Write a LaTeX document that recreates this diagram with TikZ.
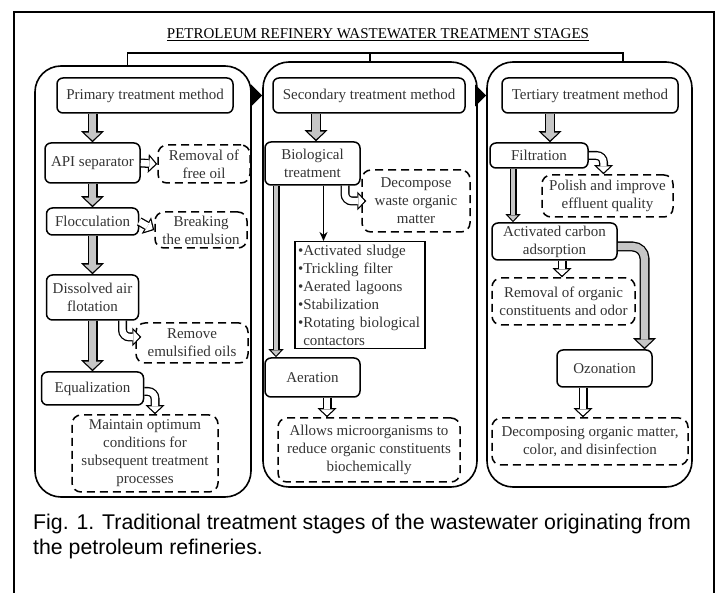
\documentclass[tikz,border=0pt]{standalone}
\usepackage{fontspec}
\setmainfont{Liberation Serif}
\newfontfamily\capfont{Liberation Sans}
\usetikzlibrary{shapes}
\usetikzlibrary{positioning}
\usetikzlibrary{arrows.meta}
\usetikzlibrary{calc}

\tikzset{
  proc/.style={draw, line width=1.5pt, rounded corners=6pt, align=center, inner sep=2pt,
    text=black!80, font=\fontsize{15}{18}\selectfont},
  note/.style={proc, dash pattern=on 8pt off 5pt, rounded corners=9pt},
  listbox/.style={draw, line width=1.5pt, align=left, inner xsep=3pt, inner ysep=3pt,
    text width=124pt, text=black!80, font=\fontsize{15}{18}\selectfont},
  panel/.style={draw, line width=1.6pt, rounded corners=26pt},
  grayarr/.style={draw=black, line width=10pt, rounded corners=8pt,
    -{Triangle[length=11pt,width=23pt,line width=0pt]},
    postaction={draw=gray!45, line width=7.4pt, shorten >=1.9pt,
      -{Triangle[length=7.6pt,width=16.5pt,line width=0pt]}}},
  hollowarr/.style={draw=black, line width=9pt, rounded corners=7pt,
    -{Triangle[length=9pt,width=19pt,line width=0pt]},
    postaction={draw=white, line width=6.4pt, shorten >=1.8pt,
      -{Triangle[length=6pt,width=13pt,line width=0pt]}}},
  thinarr/.style={draw=black, line width=7pt,
    -{Triangle[length=8pt,width=15pt,line width=0pt]},
    postaction={draw=gray!45, line width=4.6pt, shorten >=1.6pt,
      -{Triangle[length=5.3pt,width=9.6pt,line width=0pt]}}},
  blackarr/.style={draw=black, line width=7pt, -{Triangle[length=11pt,width=22pt,line width=0pt]}},
}

\begin{document}
\begin{tikzpicture}[x=1pt, y=-1pt]
    \useasboundingbox (0,0) rectangle (718,593);
    \draw[line width=1.5pt] (14,593) -- (14,12) -- (714,12) -- (714,593);

    \node[font=\fontsize{15}{18}\selectfont, inner sep=0pt] (title) at (378,35)
        {\underline{PETROLEUM REFINERY WASTEWATER TREATMENT STAGES}};

    % stage panels
    \node[panel, minimum width=216pt, minimum height=431pt] (pp) at (143,281.5) {};
    \node[panel, minimum width=214pt, minimum height=425pt] (sp) at (370,274.5) {};
    \node[panel, minimum width=205pt, minimum height=425pt] (tp) at (589.5,274.5) {};

    \coordinate (hub) at (370,53);
    \draw[line width=1.5pt] ($(pp.north)+(-15.5,0)$) |- (hub) -| ($(tp.north)+(33.5,0)$);
    \draw[line width=1.5pt] (hub) -- (sp.north);

    % primary
    \node[proc, minimum width=176pt, minimum height=35pt] (pri) at (145,95.5) {Primary treatment method};
    \node[proc, minimum width=95pt, minimum height=40pt] (api) at (92.5,163) {API separator};
    \node[note, minimum width=92pt, minimum height=38pt] (rfo) at (204,164) {Removal of\\free oil};
    \node[proc, minimum width=92pt, minimum height=27pt] (floc) at (92.5,221.5) {Flocculation};
    \node[note, minimum width=92pt, minimum height=36pt] (brk) at (201,230) {Breaking\\the emulsion};
    \node[proc, minimum width=92pt, minimum height=45pt] (daf) at (92.5,297.5) {Dissolved air\\flotation};
    \node[note, minimum width=112pt, minimum height=40pt] (rem) at (192,343) {Remove\\emulsified oils};
    \node[proc, minimum width=102pt, minimum height=33pt] (equ) at (92.5,388.5) {Equalization};
    \node[note, minimum width=146pt, minimum height=77pt] (mnt) at (145,453.5)
        {Maintain optimum\\conditions for\\subsequent treatment\\processes};

    \draw[grayarr] (pri.south -| api) -- (api.north);
    \draw[hollowarr] (api.east) -- (rfo.west);
    \draw[grayarr] (api.south) -- (floc.north);
    \draw[hollowarr] (floc.east) -- (brk.west);
    \draw[grayarr] (floc.south) -- (daf.north);
    \draw[hollowarr] ($(daf.south)+(30,0)$) |- ($(rem.west)+(6,-6)$);
    \draw[grayarr] (daf.south) -- (equ.north);
    \draw[hollowarr] ($(equ.east)+(0,3)$) -| ($(mnt.north)+(10,0)$);

    % secondary
    \node[proc, minimum width=192pt, minimum height=35pt] (sec) at (369,95.5) {Secondary treatment method};
    \node[proc, minimum width=95pt, minimum height=43pt] (bio) at (312.5,163.5) {Biological\\treatment};
    \node[note, minimum width=108pt, minimum height=62pt] (dec) at (416,201) {Decompose\\waste organic\\matter};
    \node[listbox] (lst) at (360,295) {\textbullet Activated sludge\\\textbullet Trickling filter\\
        \textbullet Aerated lagoons\\\textbullet Stabilization\\\textbullet Rotating biological\\
        \hphantom{\textbullet}contactors};
    \node[proc, minimum width=95pt, minimum height=39pt] (aer) at (312.5,377.5) {Aeration};
    \node[note, minimum width=182pt, minimum height=64pt] (alw) at (369,450)
        {Allows microorganisms to\\reduce organic constituents\\biochemically};

    \coordinate (s1) at ($(sec.south)+(-53,0)$);
    \coordinate (s2) at ($(bio.south)+(32.5,0)$);
    \coordinate (s3) at ($(bio.south)+(11,0)$);
    \coordinate (s4) at ($(bio.south)+(-36.5,0)$);
    \coordinate (s5) at ($(aer.south)+(14.5,0)$);
    \draw[grayarr] (s1) -- (s1 |- bio.north);
    \draw[hollowarr] (s2) |- ($(dec.west)+(5,0)$);
    \draw[line width=1.2pt, -{Stealth[length=9pt,width=8pt]}] (s3) -- (s3 |- lst.north);
    \draw[thinarr] (s4) -- (s4 |- aer.north);
    \draw[hollowarr] (s5) -- (s5 |- alw.north);

    % tertiary
    \node[proc, minimum width=176pt, minimum height=35pt] (ter) at (590,95.5) {Tertiary treatment method};
    \node[proc, minimum width=98pt, minimum height=25pt] (fil) at (539,155.5) {Filtration};
    \node[note, minimum width=131pt, minimum height=42pt] (pol) at (607.5,196) {Polish and improve\\effluent quality};
    \node[proc, minimum width=125pt, minimum height=37pt] (act) at (554.5,241.5) {Activated carbon\\adsorption};
    \node[note, minimum width=143pt, minimum height=47pt] (rmo) at (563.5,301.5) {Removal of organic\\constituents and odor};
    \node[proc, minimum width=95pt, minimum height=37pt] (ozo) at (604.5,368.5) {Ozonation};
    \node[note, minimum width=196pt, minimum height=47pt] (dcp) at (590,441.5)
        {Decomposing organic matter,\\color, and disinfection};

    \coordinate (t1) at ($(ter.south)+(-40,0)$);
    \coordinate (t2) at ($(fil.south)+(-26,0)$);
    \coordinate (t3) at ($(act.south)+(7.5,0)$);
    \coordinate (t4) at ($(ozo.south)+(-21.5,0)$);
    \draw[grayarr] (t1) -- (t1 |- fil.north);
    \draw[hollowarr] (fil.east) -| ($(pol.north)+(-4,0)$);
    \draw[thinarr] (t2) -- (t2 |- act.north);
    \draw[hollowarr] (t3) -- (t3 |- rmo.north);
    \draw[grayarr, rounded corners=12pt] ($(act.east)+(0,5)$) -| ($(ozo.north)+(40,0)$);
    \draw[hollowarr] (t4) -- (t4 |- dcp.north);

    % between the stages
    \draw[blackarr] (pp.east |- pri) -- (sp.west |- pri);
    \draw[blackarr] (sp.east |- pri) -- (tp.west |- pri);

    \node[anchor=north west, align=left, inner sep=0pt, font=\capfont\fontsize{21.3}{25}\selectfont] (cap) at (33,514)
        {Fig. 1. Traditional treatment stages of the wastewater originating from\\the petroleum refineries.};
\end{tikzpicture}
\end{document}
